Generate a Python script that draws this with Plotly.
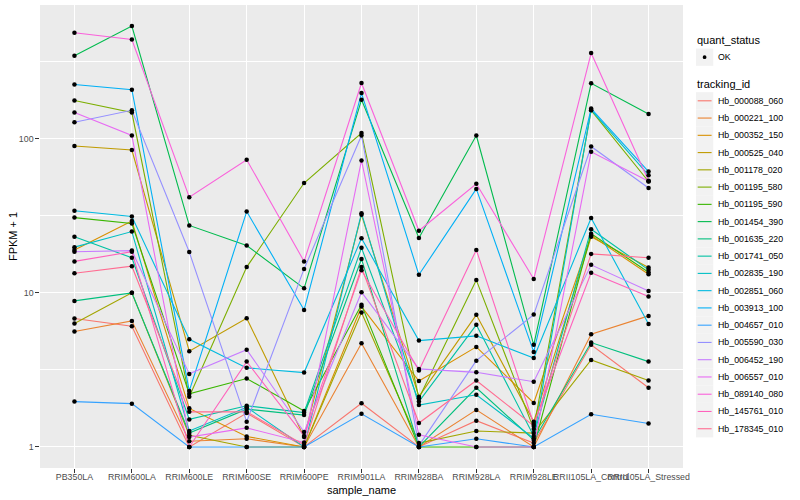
import plotly.graph_objects as go

# ---- data -------------------------------------------------------------
samples = ["PB350LA", "RRIM600LA", "RRIM600LE", "RRIM600SE", "RRIM600PE",
           "RRIM901LA", "RRIM928BA", "RRIM928LA", "RRIM928LE",
           "RRII105LA_Control", "RRII105LA_Stressed"]

tracking_ids = ["Hb_000088_060", "Hb_000221_100", "Hb_000352_150", "Hb_000525_040",
                "Hb_001178_020", "Hb_001195_580", "Hb_001195_590", "Hb_001454_390",
                "Hb_001635_220", "Hb_001741_050", "Hb_002835_190", "Hb_002851_060",
                "Hb_003913_100", "Hb_004657_010", "Hb_005590_030", "Hb_006452_190",
                "Hb_006557_010", "Hb_089140_080", "Hb_145761_010", "Hb_178345_010"]

Hb_000088_060 = [6.82, 6.08, 1.0, 1.66, 1.0, 1.92, 1.0, 1.48, 1.06, 4.60, 2.42]
Hb_000221_100 = [5.61, 6.58, 1.09, 1.13, 1.0, 4.71, 1.0, 1.74, 1.0, 5.39, 7.09]
Hb_000352_150 = [19.0, 29.3, 1.78, 1.17, 1.0, 8.15, 2.68, 4.46, 1.93, 23.6, 13.2]
Hb_000525_040 = [89.7, 84.5, 4.18, 6.85, 1.16, 32.1, 2.12, 7.2, 1.46, 23.1, 14.6]
Hb_001178_020 = [6.32, 10.0, 1.19, 1.0, 1.0, 7.45, 1.06, 1.27, 1.23, 3.67, 2.70]
Hb_001195_580 = [177, 148, 2.12, 14.7, 51.6, 109, 2.07, 12.1, 1.31, 153, 52.8]
Hb_001195_590 = [30.8, 28.2, 2.21, 2.78, 1.71, 8.36, 1.0, 1.0, 1.0, 24.2, 13.6]
Hb_001454_390 = [346, 539, 27.4, 20.3, 10.7, 179, 22.7, 105, 4.60, 229, 145]
Hb_001635_220 = [8.87, 10.0, 1.23, 1.76, 1.61, 16.6, 1.0, 2.42, 1.11, 4.76, 3.58]
Hb_001741_050 = [23.1, 16.9, 1.51, 1.85, 1.67, 19.6, 1.97, 6.20, 1.18, 25.9, 14.1]
Hb_002835_190 = [19.8, 25.0, 1.27, 1.81, 1.0, 32.9, 1.87, 2.18, 1.14, 154, 58.0]
Hb_002851_060 = [34.1, 31.3, 5.0, 3.26, 3.04, 22.6, 4.90, 5.26, 3.78, 30.6, 6.28]
Hb_003913_100 = [225, 208, 2.31, 33.7, 7.75, 198, 13.1, 47.3, 4.14, 157, 61.3]
Hb_004657_010 = [1.97, 1.91, 1.0, 1.0, 1.0, 1.64, 1.0, 1.13, 1.0, 1.63, 1.42]
Hb_005590_030 = [128, 153, 18.4, 1.46, 14.3, 105, 1.02, 3.63, 7.23, 89.1, 47.9]
Hb_006452_190 = [18.5, 18.8, 2.98, 4.28, 1.25, 10.1, 3.21, 3.05, 2.65, 15.2, 10.3]
Hb_006557_010 = [148, 105, 1.16, 1.33, 1.07, 72.3, 1.20, 1.0, 1.0, 82.3, 53.0]
Hb_089140_080 = [488, 441, 41.8, 73.1, 16.0, 230, 25.3, 51.0, 12.3, 360, 53.4]
Hb_145761_010 = [16.0, 18.5, 1.0, 3.58, 1.18, 14.0, 3.13, 19.0, 1.41, 13.5, 9.46]
Hb_178345_010 = [13.4, 14.9, 1.69, 1.69, 1.03, 14.7, 1.43, 2.70, 1.37, 17.9, 16.9]

fpkm = [Hb_000088_060, Hb_000221_100, Hb_000352_150, Hb_000525_040, Hb_001178_020,
        Hb_001195_580, Hb_001195_590, Hb_001454_390, Hb_001635_220, Hb_001741_050,
        Hb_002835_190, Hb_002851_060, Hb_003913_100, Hb_004657_010, Hb_005590_030,
        Hb_006452_190, Hb_006557_010, Hb_089140_080, Hb_145761_010, Hb_178345_010]

quant_status = ["OK"]

y_tickvals = [1, 10, 100]
y_ticktext = ["1", "10", "100"]

# ---- style ------------------------------------------------------------
colors = ["#F8766D", "#EA8331", "#D89000", "#C09B00", "#A3A500", "#7CAE00", "#39B600",
          "#00BB4E", "#00BF7D", "#00C1A3", "#00BFC4", "#00BAE0", "#00B0F6", "#35A2FF",
          "#9590FF", "#C77CFF", "#E76BF3", "#FA62DB", "#FF62BC", "#FF6C91"]
FONT = "Liberation Sans, Arial, Helvetica, sans-serif"

W, H = 800, 500
L, R, T, B = 40, 683.5, 5, 468


def px(x):
    return (x - L) / (R - L)


def py(y):
    return (B - y) / (B - T)


fig = go.Figure()

for tid, vals, col in zip(tracking_ids, fpkm, colors):
    fig.add_trace(go.Scatter(x=samples, y=vals, mode="lines", name=tid,
                             line=dict(color=col, width=1.1),
                             showlegend=False, hoverinfo="x+y+name"))

all_x, all_y = [], []
for vals in fpkm:
    all_x += samples
    all_y += vals
fig.add_trace(go.Scatter(x=all_x, y=all_y, mode="markers", name=quant_status[0],
                         marker=dict(color="black", size=4.5),
                         showlegend=False))

# ---- manual ggplot-style legend ----------------------------------------
shapes = []
annotations = []
key_x0, key_x1 = 696.5, 713.8
key_h = 17.26

annotations.append(dict(x=px(696), y=py(40.5), xref="paper", yref="paper",
                        text="quant_status", showarrow=False, xanchor="left",
                        yanchor="middle", font=dict(size=11, color="black", family=FONT)))
cy = 57.2
shapes.append(dict(type="rect", xref="paper", yref="paper", x0=px(key_x0), x1=px(key_x1),
                   y0=py(cy + key_h / 2), y1=py(cy - key_h / 2),
                   fillcolor="#F2F2F2", line=dict(width=0), layer="above"))
r = 1.9
shapes.append(dict(type="circle", xref="paper", yref="paper", x0=px(705.1 - r), x1=px(705.1 + r),
                   y0=py(cy + r), y1=py(cy - r), fillcolor="black",
                   line=dict(width=0), layer="above"))
annotations.append(dict(x=px(716.5), y=py(cy), xref="paper", yref="paper",
                        text=quant_status[0], showarrow=False, xanchor="left",
                        yanchor="middle", font=dict(size=8.8, color="black", family=FONT)))

annotations.append(dict(x=px(696), y=py(84.5), xref="paper", yref="paper",
                        text="tracking_id", showarrow=False, xanchor="left",
                        yanchor="middle", font=dict(size=11, color="black", family=FONT)))
for i, (tid, col) in enumerate(zip(tracking_ids, colors)):
    cy = 100.8 + key_h * i
    shapes.append(dict(type="rect", xref="paper", yref="paper", x0=px(key_x0), x1=px(key_x1),
                       y0=py(cy + key_h / 2), y1=py(cy - key_h / 2),
                       fillcolor="#F2F2F2", line=dict(width=0), layer="above"))
    shapes.append(dict(type="line", xref="paper", yref="paper", x0=px(698.2), x1=px(712.1),
                       y0=py(cy), y1=py(cy), line=dict(color=col, width=1.1), layer="above"))
    annotations.append(dict(x=px(716.5), y=py(cy), xref="paper", yref="paper",
                            text=tid, showarrow=False, xanchor="left", yanchor="middle",
                            font=dict(size=8.8, color="black", family=FONT)))

# axis titles
annotations.append(dict(x=0.5, y=py(489.5), xref="paper", yref="paper", text="sample_name",
                        showarrow=False, xanchor="center", yanchor="middle",
                        font=dict(size=11, color="black", family=FONT)))
annotations.append(dict(x=px(12.5), y=0.5, xref="paper", yref="paper", text="FPKM + 1",
                        showarrow=False, xanchor="center", yanchor="middle", textangle=-90,
                        font=dict(size=11, color="black", family=FONT)))

ymax_log = 2.7316
pad = 0.05 * ymax_log

fig.update_layout(
    width=W, height=H,
    margin=dict(l=L, r=W - R, t=T, b=H - B, pad=0),
    paper_bgcolor="white", plot_bgcolor="#EBEBEB",
    font=dict(family=FONT, size=8.8, color="#4D4D4D"),
    showlegend=False,
    shapes=shapes, annotations=annotations,
    xaxis=dict(type="category", categoryorder="array", categoryarray=samples,
               range=[-0.6, len(samples) - 0.4], showgrid=True, gridcolor="white",
               gridwidth=1.1, zeroline=False, showline=False, ticks="outside",
               ticklen=3.7, tickwidth=1, tickcolor="#333333", tickangle=0,
               ticklabelstandoff=-3,
               tickfont=dict(size=8.8, color="#4D4D4D", family=FONT), automargin=False),
    yaxis=dict(type="log", range=[-pad, ymax_log + pad], tickmode="array",
               tickvals=y_tickvals, ticktext=y_ticktext, showgrid=True,
               gridcolor="white", gridwidth=1.1, zeroline=False, showline=False,
               ticks="outside", ticklen=3.7, tickwidth=1, tickcolor="#333333",
               tickfont=dict(size=8.8, color="#4D4D4D", family=FONT), automargin=False,
               minor=dict(tickmode="array", tickvals=[10 ** 0.5, 10 ** 1.5, 10 ** 2.5],
                          showgrid=True, gridcolor="white", gridwidth=0.55, ticks="")),
)

fig.write_html("out.html", config={"displayModeBar": False},
               post_script="document.body.style.margin='0';document.body.style.padding='0';")
